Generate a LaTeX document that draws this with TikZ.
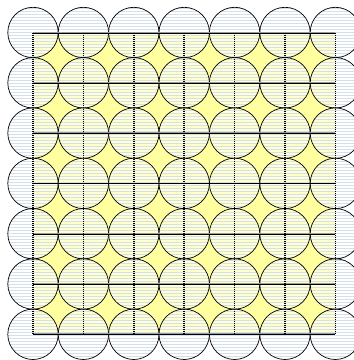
\documentclass[tikz,border=0pt]{standalone}
\usepackage{xcolor}
\usepackage{tikz}
\usetikzlibrary{patterns, backgrounds}
\definecolor{sheet}{RGB}{255,255,160}
\definecolor{stripe}{RGB}{212,224,236}
\tikzset{
    disc/.style={draw, circle, line width=0.7pt, minimum size=50.4pt, inner sep=0pt, preaction={fill=white, fill opacity=0.5}, pattern=horizontal lines, pattern color=stripe},
    rowshade/.style={gray!80, line width=1.8pt},
    rowline/.style={black, line width=0.7pt},
    colline/.style={black, line width=1.6pt, dash pattern=on 1.1pt off 0.9pt}
}

\begin{document}
\begin{tikzpicture}[x=1pt, y=-1pt]
    \useasboundingbox (0,0) rectangle (354,360);
    % the discs
    \foreach \i in {0,...,6}
        \foreach \j in {0,...,6}
            \node (c-\i-\j) [disc] at (33+50.4*\i, 32.5+50.3*\j) {};
    % yellow sheet under them
    \begin{scope}[on background layer]
        \fill [sheet] (c-0-0.center) rectangle (c-6-6.center);
    \end{scope}
    % grid
    \foreach \j in {0,...,6} {
        \draw [rowshade] (c-0-\j.center) -- (c-6-\j.center);
        \draw [rowline] ([yshift=-0.4pt]c-0-\j.center) -- ([yshift=-0.4pt]c-6-\j.center);
    }
    \foreach \i in {0,...,6}
        \draw [colline] (c-\i-0.center) -- (c-\i-6.center);
\end{tikzpicture}
\end{document}
